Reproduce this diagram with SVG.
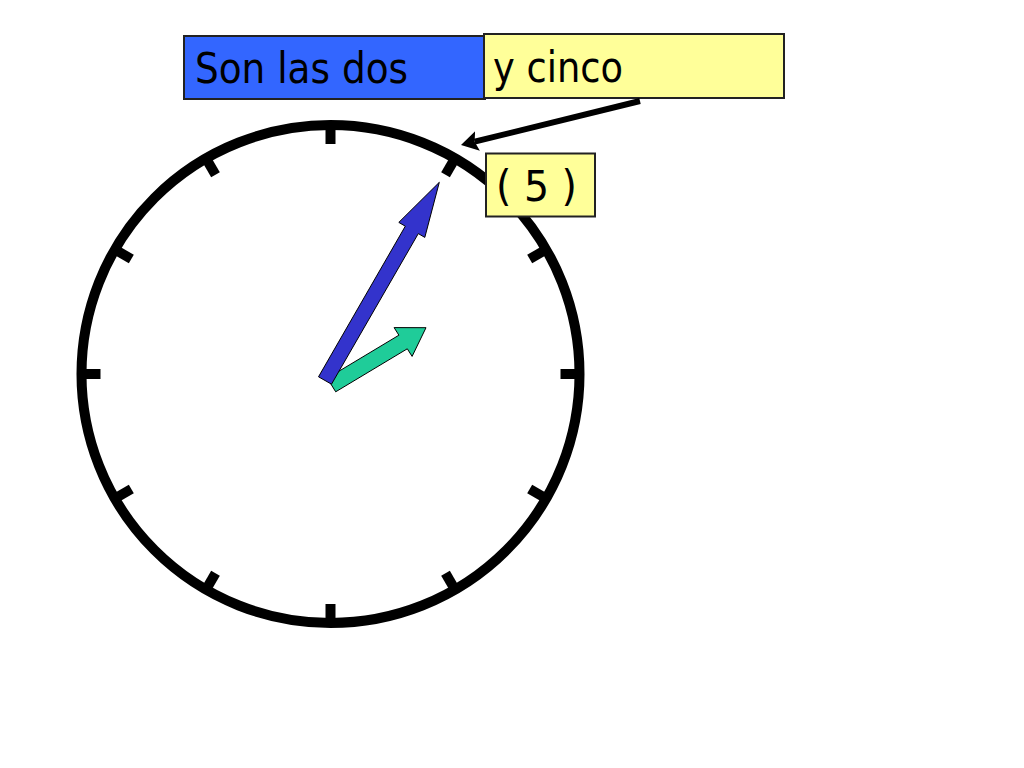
<svg xmlns="http://www.w3.org/2000/svg" width="1024" height="768" viewBox="0 0 1024 768">
<style>
.lbl{font-family:Tahoma,"DejaVu Sans",sans-serif;fill:#000;font-size:42px}
.box{stroke:#222;stroke-width:2}
.tick{stroke:#000;stroke-width:10}
</style>
<defs>
<marker id="ah" markerUnits="userSpaceOnUse" markerWidth="20" markerHeight="22" refX="3" refY="10" orient="auto">
<path d="M0,0 L17,10 L0,20 L3,10 Z" fill="#000"/>
</marker>
</defs>
<rect width="1024" height="768" fill="#fff"/>
<g id="clock">
<circle cx="330.5" cy="374" r="249" fill="#fff" stroke="#000" stroke-width="10"/>
<g id="ticks" transform="translate(330.5,374)">
<line class="tick" x1="0" y1="-246" x2="0" y2="-230"/>
<line class="tick" x1="0" y1="-246" x2="0" y2="-230" transform="rotate(30)"/>
<line class="tick" x1="0" y1="-246" x2="0" y2="-230" transform="rotate(60)"/>
<line class="tick" x1="0" y1="-246" x2="0" y2="-230" transform="rotate(90)"/>
<line class="tick" x1="0" y1="-246" x2="0" y2="-230" transform="rotate(120)"/>
<line class="tick" x1="0" y1="-246" x2="0" y2="-230" transform="rotate(150)"/>
<line class="tick" x1="0" y1="-246" x2="0" y2="-230" transform="rotate(180)"/>
<line class="tick" x1="0" y1="-246" x2="0" y2="-230" transform="rotate(210)"/>
<line class="tick" x1="0" y1="-246" x2="0" y2="-230" transform="rotate(240)"/>
<line class="tick" x1="0" y1="-246" x2="0" y2="-230" transform="rotate(270)"/>
<line class="tick" x1="0" y1="-246" x2="0" y2="-230" transform="rotate(300)"/>
<line class="tick" x1="0" y1="-246" x2="0" y2="-230" transform="rotate(330)"/>
</g>
</g>
<g id="hour-hand">
<polygon points="335.7,391.8 407.3,348.8 412.1,356.4 426,327.7 394.1,327.6 398.9,335.2 327.3,378.2" fill="#1fcc99" stroke="#000" stroke-width="1"/>
</g>
<g id="minute-hand">
<polygon points="318.5,376.8 405.3,226.2 398.8,222.4 439.3,182.3 424.8,237.4 418.3,233.6 331.5,384.2" fill="#3333cc" stroke="#000" stroke-width="1"/>
</g>
<g id="label-son">
<rect class="box" x="184" y="36" width="301" height="63" fill="#3366ff"/>
<text class="lbl" x="195" y="83" textLength="213" lengthAdjust="spacingAndGlyphs">Son las dos</text>
</g>
<g id="label-cinco">
<rect class="box" x="484" y="34" width="300" height="64" fill="#ffff99"/>
<text class="lbl" x="493" y="82" textLength="130" lengthAdjust="spacingAndGlyphs">y cinco</text>
</g>
<g id="label-5">
<rect class="box" x="486" y="153.5" width="109" height="63" fill="#ffff99"/>
<text class="lbl" x="496" y="201" textLength="81" lengthAdjust="spacingAndGlyphs">( 5 )</text>
</g>
<g id="connectors">
<line x1="640" y1="101" x2="474.6" y2="141.7" stroke="#000" stroke-width="6" marker-end="url(#ah)"/>
</g>
</svg>
